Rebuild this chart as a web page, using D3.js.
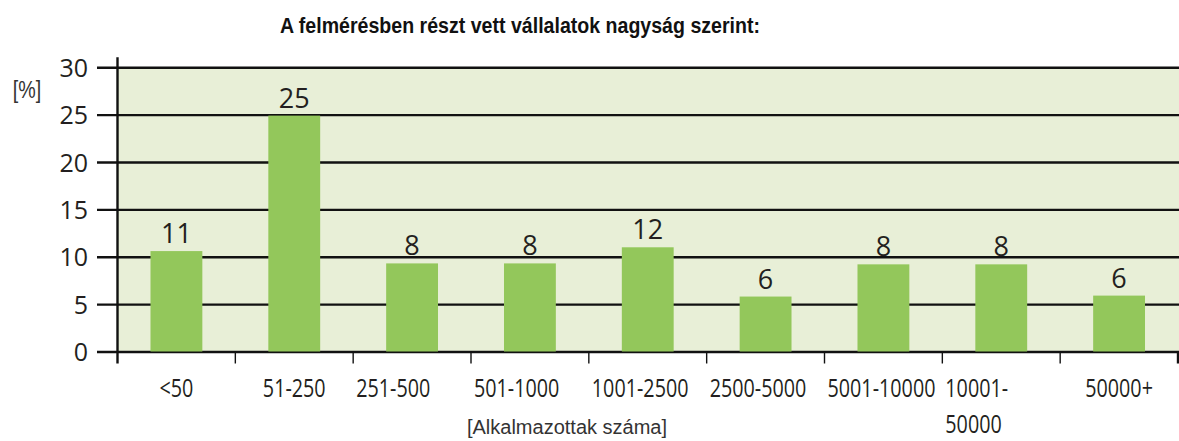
<!DOCTYPE html>
<html>
<head>
<meta charset="utf-8">
<script src="https://cdn.jsdelivr.net/npm/d3@7"></script>
<style>
  body { margin: 0; background: #fff; }
  svg { display: block; }
</style>
</head>
<body>
<div id="grafica"></div>
<script>
(function (d3) {
  'use strict';

// data
var categories = ["<50", "51-250", "251-500", "501-1000", "1001-2500", "2500-5000", "5001-10000", "10001-50000", "50000+"];
var barValues = [10.6, 24.9, 9.3, 9.3, 11.0, 5.8, 9.2, 9.2, 5.9];
var valueLabels = ["11", "25", "8", "8", "12", "6", "8", "8", "6"];
var tickLabels = ["<50", "51-250", "251-500", "501-1000", "1001-2500", "2500-5000", "5001-10000", "10001-\n50000", "50000+"];
var yTicks = [0, 5, 10, 15, 20, 25, 30];

var W = 1179, H = 441;
var left = 117.5, right = 1179, gridLeft = 97;
var textCol = "#231f20";

var svg = d3.select("#grafica")
  .append("svg")
    .attr("width", W)
    .attr("height", H);

var x = d3.scaleBand()
  .domain(categories)
  .range([left, 1178])
  .paddingInner(0.56)
  .paddingOuter(0.28);

var y = d3.scaleLinear()
  .domain([0, 30])
  .range([351.5, 67.3]);

// plot background
svg.append("rect")
  .attr("x", left)
  .attr("y", y(30))
  .attr("width", right - left)
  .attr("height", y(0) - y(30))
  .style("fill", "#e8efd7");

// gridlines + y labels in one go
var yAxis = svg.append("g")
  .attr("transform", "translate(" + right + ",0)")
  .call(d3.axisLeft(y)
    .tickValues(yTicks)
    .tickSize(right - gridLeft)
    .tickPadding(9)
    .tickFormat(d3.format("d")));
yAxis.select(".domain").remove();
yAxis.selectAll("line")
  .attr("stroke", "#111")
  .attr("stroke-width", 2.4);
yAxis.selectAll("text")
  .attr("fill", textCol)
  .style("font-family", "'Open Sans', sans-serif")
  .style("font-size", "25px")
  .attr("dy", "0.36em");

// vertical axis line
svg.append("line")
  .attr("x1", left).attr("x2", left)
  .attr("y1", y(30) - 10).attr("y2", y(0) + 12)
  .attr("stroke", "#111")
  .attr("stroke-width", 2.4);

// tick marks between the categories
var bounds = d3.range(1, categories.length + 1).map(function (i) { return x.range()[0] + i * x.step(); });
svg.selectAll(".xtick")
  .data(bounds)
  .enter().append("line")
  .attr("class", "xtick")
  .attr("x1", function (d) { return d; })
  .attr("x2", function (d) { return d; })
  .attr("y1", y(0))
  .attr("y2", y(0) + 12)
  .attr("stroke", "#111")
  .attr("stroke-width", function (d, i) { return i == bounds.length - 1 ? 2.4 : 1.4; });

// bars
svg.selectAll(".bar")
  .data(barValues)
  .enter().append("rect")
  .attr("class", "bar")
  .attr("x", function (d, i) { return x(categories[i]); })
  .attr("y", function (d) { return y(d); })
  .attr("width", x.bandwidth())
  .attr("height", function (d) { return y(0) - y(d); })
  .style("fill", "#93c75b");

// value labels over bars
svg.selectAll(".val")
  .data(barValues)
  .enter().append("text")
  .attr("class", "val")
  .attr("x", function (d, i) { return x(categories[i]) + x.bandwidth() / 2; })
  .attr("y", function (d) { return y(d) - 8; })
  .attr("text-anchor", "middle")
  .attr("fill", textCol)
  .style("font-family", "'Open Sans', sans-serif")
  .style("font-size", "27px")
  .text(function (d, i) { return valueLabels[i]; });

// category labels: short ones centred, long ones start at the slot edge
var xl = svg.selectAll(".xlab")
  .data(tickLabels)
  .enter().append("g")
  .attr("class", "xlab")
  .attr("transform", function (d, i) {
    var slot = x.range()[0] + i * x.step();
    var px = categories[i].length >= 7 ? slot + 3 : slot + x.step() / 2;
    return "translate(" + px + ",397)";
  });

xl.append("text")
  .attr("transform", "scale(0.76,1)")
  .attr("text-anchor", function (d, i) { return categories[i].length >= 7 ? "start" : "middle"; })
  .attr("fill", textCol)
  .style("font-family", "'Open Sans', sans-serif")
  .style("font-size", "26px")
  .each(function (d) {
    var t = d3.select(this);
    d.split("\n").forEach(function (line, k) {
      t.append("tspan")
        .attr("x", 0)
        .attr("dy", k == 0 ? 0 : 36)
        .text(line);
    });
  });

// title
svg.append("g")
  .attr("transform", "translate(520,33) scale(0.89,1)")
  .append("text")
  .attr("text-anchor", "middle")
  .attr("fill", "#111")
  .style("font-family", "'Liberation Sans', Arial, sans-serif")
  .style("font-weight", "bold")
  .style("font-size", "22px")
  .text("A felmérésben részt vett vállalatok nagyság szerint:");

// unit label
svg.append("g")
  .attr("transform", "translate(27,98) scale(0.82,1)")
  .append("text")
  .attr("text-anchor", "middle")
  .attr("fill", "#333")
  .style("font-family", "'Liberation Sans', Arial, sans-serif")
  .style("font-size", "24px")
  .text("[%]");

// x axis title
svg.append("text")
  .attr("x", 567)
  .attr("y", 434)
  .attr("text-anchor", "middle")
  .attr("fill", "#333")
  .style("font-family", "'Liberation Sans', Arial, sans-serif")
  .style("font-size", "20px")
  .text("[Alkalmazottak száma]");

}(d3));
</script>
</body>
</html>
